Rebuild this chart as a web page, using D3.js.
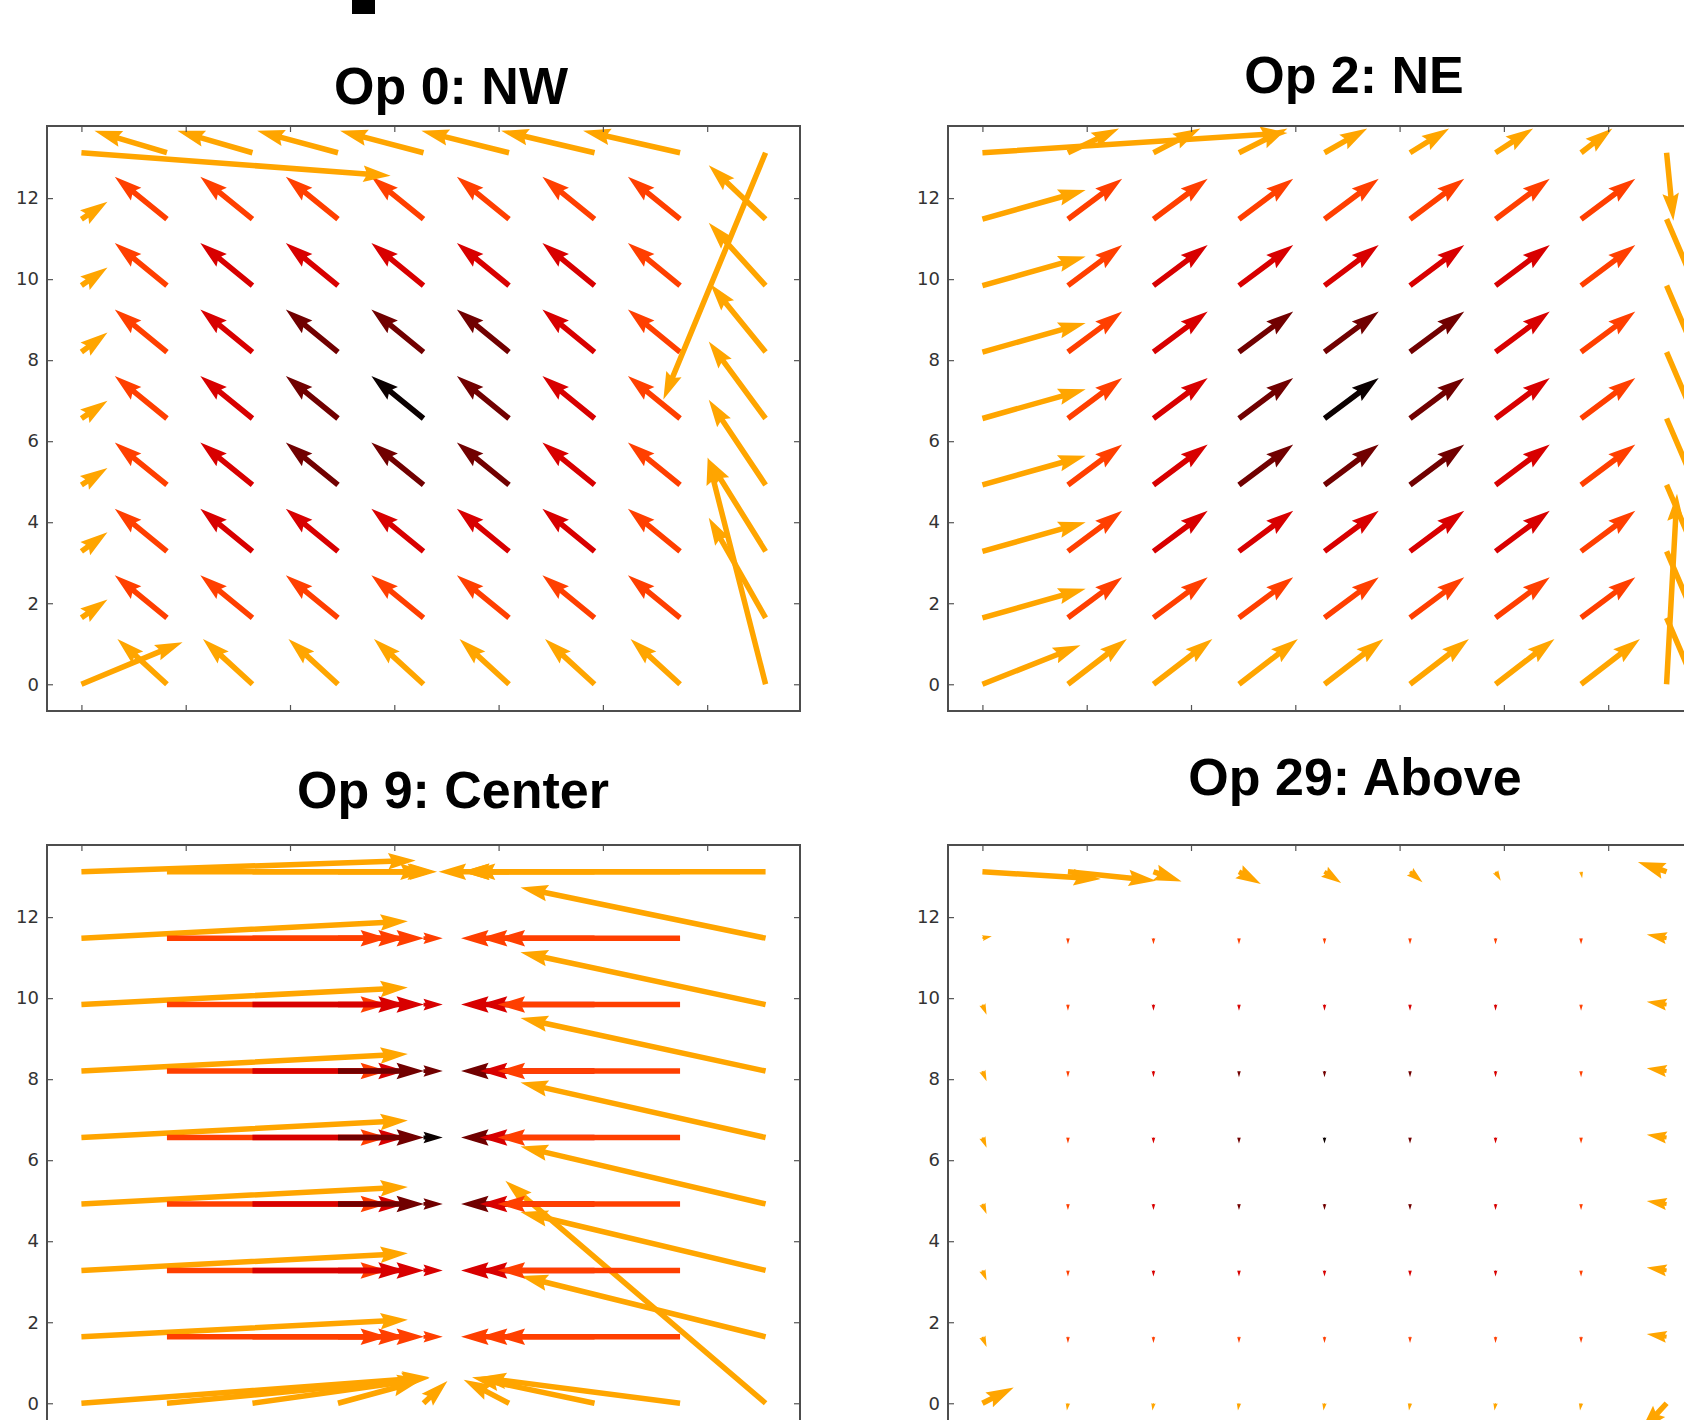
<!DOCTYPE html>
<html>
<head>
<meta charset="utf-8">
<script src="https://cdn.jsdelivr.net/npm/d3@7"></script>
<style>
  body { margin: 0; background: #fff; }
</style>
</head>
<body>
<div id="chart"></div>
<script>
// arrow tails, same grid in every panel
const gridX = [0, 1.64, 3.28, 4.92, 6.56, 8.2, 9.84, 11.48, 13.12];
const gridY = [0, 1.64, 3.28, 4.92, 6.56, 8.2, 9.84, 11.48, 13.12];
const ticks = [0, 2, 4, 6, 8, 10, 12];

// colour level of each arrow (0 = black ... 4 = orange), row 0 is the bottom row
const shade = [
  [4, 4, 4, 4, 4, 4, 4, 4, 4],
  [4, 3, 3, 3, 3, 3, 3, 3, 4],
  [4, 3, 2, 2, 2, 2, 2, 3, 4],
  [4, 3, 2, 1, 1, 1, 2, 3, 4],
  [4, 3, 2, 1, 0, 1, 2, 3, 4],
  [4, 3, 2, 1, 1, 1, 2, 3, 4],
  [4, 3, 2, 2, 2, 2, 2, 3, 4],
  [4, 3, 3, 3, 3, 3, 3, 3, 4],
  [4, 4, 4, 4, 4, 4, 4, 4, 4]
];

// Op 0: NW
const nwU = [
  [1.94, -0.95, -0.95, -0.95, -0.95, -0.95, -0.95, -0.95, -1.11],
  [0.50, -1.00, -1.00, -1.00, -1.00, -1.00, -1.00, -1.00, -1.09],
  [0.50, -1.00, -1.00, -1.00, -1.00, -1.00, -1.00, -1.00, -1.11],
  [0.50, -1.00, -1.00, -1.00, -1.00, -1.00, -1.00, -1.00, -1.09],
  [0.50, -1.00, -1.00, -1.00, -1.00, -1.00, -1.00, -1.00, -1.09],
  [0.50, -1.00, -1.00, -1.00, -1.00, -1.00, -1.00, -1.00, -1.06],
  [0.50, -1.00, -1.00, -1.00, -1.00, -1.00, -1.00, -1.00, -1.09],
  [0.50, -1.00, -1.00, -1.00, -1.00, -1.00, -1.00, -1.00, -1.09],
  [5.93, -1.39, -1.44, -1.55, -1.60, -1.68, -1.79, -1.86, -1.96]
];
const nwV = [
  [1.04, 1.12, 1.12, 1.12, 1.12, 1.12, 1.12, 1.12, 5.60],
  [0.45, 1.05, 1.05, 1.05, 1.05, 1.05, 1.05, 1.05, 2.47],
  [0.47, 1.05, 1.05, 1.05, 1.05, 1.05, 1.05, 1.05, 2.30],
  [0.42, 1.05, 1.05, 1.05, 1.05, 1.05, 1.05, 1.05, 2.10],
  [0.44, 1.05, 1.05, 1.05, 1.05, 1.05, 1.05, 1.05, 1.90],
  [0.48, 1.05, 1.05, 1.05, 1.05, 1.05, 1.05, 1.05, 1.68],
  [0.45, 1.05, 1.05, 1.05, 1.05, 1.05, 1.05, 1.05, 1.55],
  [0.43, 1.05, 1.05, 1.05, 1.05, 1.05, 1.05, 1.05, 1.33],
  [-0.57, 0.54, 0.54, 0.54, 0.54, 0.54, 0.54, 0.54, -6.09]
];

// Op 2: NE
const neU = [
  [1.88, 1.13, 1.13, 1.13, 1.13, 1.13, 1.13, 1.13, 0.20],
  [1.98, 1.04, 1.04, 1.04, 1.04, 1.04, 1.04, 1.04, 1.00],
  [1.98, 1.04, 1.04, 1.04, 1.04, 1.04, 1.04, 1.04, 1.00],
  [1.98, 1.04, 1.04, 1.04, 1.04, 1.04, 1.04, 1.04, 1.00],
  [1.98, 1.04, 1.04, 1.04, 1.04, 1.04, 1.04, 1.04, 1.00],
  [1.98, 1.04, 1.04, 1.04, 1.04, 1.04, 1.04, 1.04, 1.00],
  [1.98, 1.04, 1.04, 1.04, 1.04, 1.04, 1.04, 1.04, 1.00],
  [1.98, 1.04, 1.04, 1.04, 1.04, 1.04, 1.04, 1.04, 1.00],
  [5.85, 0.98, 0.90, 0.93, 0.82, 0.75, 0.72, 0.60, 0.13]
];
const neV = [
  [0.96, 1.12, 1.12, 1.12, 1.12, 1.12, 1.12, 1.12, 4.70],
  [0.72, 1.00, 1.00, 1.00, 1.00, 1.00, 1.00, 1.00, -3.00],
  [0.72, 1.00, 1.00, 1.00, 1.00, 1.00, 1.00, 1.00, -3.00],
  [0.72, 1.00, 1.00, 1.00, 1.00, 1.00, 1.00, 1.00, -3.00],
  [0.72, 1.00, 1.00, 1.00, 1.00, 1.00, 1.00, 1.00, -3.00],
  [0.72, 1.00, 1.00, 1.00, 1.00, 1.00, 1.00, 1.00, -3.00],
  [0.72, 1.00, 1.00, 1.00, 1.00, 1.00, 1.00, 1.00, -3.00],
  [0.72, 1.00, 1.00, 1.00, 1.00, 1.00, 1.00, 1.00, -3.00],
  [0.49, 0.60, 0.60, 0.60, 0.60, 0.60, 0.60, 0.60, -1.68]
];

// Op 9: Center
const ctU = [
  [6.68, 5.03, 3.30, 1.57, 0.46, -0.87, -2.35, -3.86, -4.99],
  [6.26, 4.24, 2.94, 1.65, 0.37, -0.92, -2.20, -3.50, -4.70],
  [6.26, 4.24, 2.94, 1.65, 0.37, -0.92, -2.20, -3.50, -4.70],
  [6.26, 4.24, 2.94, 1.65, 0.37, -0.92, -2.20, -3.50, -4.70],
  [6.26, 4.24, 2.94, 1.65, 0.37, -0.92, -2.20, -3.50, -4.70],
  [6.26, 4.24, 2.94, 1.65, 0.37, -0.92, -2.20, -3.50, -4.70],
  [6.26, 4.24, 2.94, 1.65, 0.37, -0.92, -2.20, -3.50, -4.70],
  [6.26, 4.24, 2.94, 1.65, 0.37, -0.92, -2.20, -3.50, -4.70],
  [6.41, 5.00, 3.50, 1.90, 0.15, -0.90, -2.55, -4.07, -6.27]
];
const ctV = [
  [0.64, 0.62, 0.60, 0.55, 0.55, 0.58, 0.64, 0.64, 5.49],
  [0.42, 0, 0, 0, 0, 0, 0, 0, 1.50],
  [0.42, 0, 0, 0, 0, 0, 0, 0, 1.44],
  [0.42, 0, 0, 0, 0, 0, 0, 0, 1.42],
  [0.42, 0, 0, 0, 0, 0, 0, 0, 1.36],
  [0.42, 0, 0, 0, 0, 0, 0, 0, 1.31],
  [0.42, 0, 0, 0, 0, 0, 0, 0, 1.29],
  [0.42, 0, 0, 0, 0, 0, 0, 0, 1.25],
  [0.28, 0, 0, 0, 0, 0, 0, 0, 0]
];

// Op 29: Above
const abU = [
  [0.60, -0.02, -0.02, -0.02, -0.02, -0.02, -0.02, -0.02, -0.50],
  [0.08, 0, 0, 0, 0, 0, 0, 0, -0.38],
  [0.08, 0, 0, 0, 0, 0, 0, 0, -0.38],
  [0.08, 0, 0, 0, 0, 0, 0, 0, -0.38],
  [0.08, 0, 0, 0, 0, 0, 0, 0, -0.38],
  [0.08, 0, 0, 0, 0, 0, 0, 0, -0.38],
  [0.08, 0, 0, 0, 0, 0, 0, 0, -0.38],
  [0.18, 0, 0, 0, 0, 0, 0, 0, -0.38],
  [2.27, 1.69, 0.54, 0.42, 0.32, 0.24, 0.10, 0.02, -0.55]
];
const abV = [
  [0.39, -0.18, -0.18, -0.18, -0.18, -0.18, -0.18, -0.18, -0.70],
  [-0.25, -0.15, -0.15, -0.15, -0.15, -0.15, -0.15, -0.15, 0.07],
  [-0.25, -0.15, -0.15, -0.15, -0.15, -0.15, -0.15, -0.15, 0.07],
  [-0.25, -0.15, -0.15, -0.15, -0.15, -0.15, -0.15, -0.15, 0.07],
  [-0.25, -0.15, -0.15, -0.15, -0.15, -0.15, -0.15, -0.15, 0.07],
  [-0.25, -0.15, -0.15, -0.15, -0.15, -0.15, -0.15, -0.15, 0.07],
  [-0.25, -0.15, -0.15, -0.15, -0.15, -0.15, -0.15, -0.15, 0.07],
  [0.05, -0.15, -0.15, -0.15, -0.15, -0.15, -0.15, -0.15, 0.09],
  [-0.18, -0.22, -0.24, -0.30, -0.28, -0.26, -0.22, -0.16, 0.24]
];

const titles = ["Op 0: NW", "Op 2: NE", "Op 9: Center", "Op 29: Above"];
const fieldsU = [nwU, neU, ctU, abU];
const fieldsV = [nwV, neV, ctV, abV];

// page layout
const W = 1684, H = 1420;
const frameW = 753, frameH = 585;
const extent = [-0.66, 13.78];
const layout = [
  { left: 47,  top: 126, titleX: 451,  titleY: 104 },
  { left: 948, top: 126, titleX: 1354, titleY: 93 },
  { left: 47,  top: 845, titleX: 453,  titleY: 808 },
  { left: 948, top: 845, titleX: 1355, titleY: 795 }
];

// matplotlib "hot" colormap, levels spread over its lower part
const hot = d3.scaleLinear()
  .domain([0, 0.365, 0.746, 1])
  .range(["#0b0000", "#ff0000", "#ffff00", "#ffffff"]);
const level = d3.scaleLinear().domain([0, 4]).range([0, 0.612]);

// quiver arrow polygon, in units of shaft width (matplotlib defaults)
const shaft = 5.5;
function arrowPath(x0, y0, x1, y1) {
  const dx = x1 - x0, dy = y1 - y0;
  const len = Math.hypot(dx, dy) / shaft;
  const a = Math.atan2(dy, dx), ca = Math.cos(a), sa = Math.sin(a);
  let X, Y;
  if (len < 1) {
    X = d3.range(7).map(i => 0.5 * Math.cos(i * Math.PI / 3));
    Y = d3.range(7).map(i => 0.5 * Math.sin(i * Math.PI / 3));
  } else if (len < 5) {
    const s = len / 5;
    X = [0, 0.5, 0, 5, 0, 0.5, 0].map(v => v * s);
    Y = [0.5, 0.5, 1.5, 0, -1.5, -0.5, -0.5].map(v => v * s);
  } else {
    X = [0, len - 4.5, len - 5, len, len - 5, len - 4.5, 0];
    Y = [0.5, 0.5, 1.5, 0, -1.5, -0.5, -0.5];
  }
  const pts = X.map((xv, i) => [
    x0 + shaft * (xv * ca - Y[i] * sa),
    y0 + shaft * (xv * sa + Y[i] * ca)
  ]);
  return "M" + pts.map(p => p[0].toFixed(2) + "," + p[1].toFixed(2)).join("L") + "Z";
}

const svg = d3.select("#chart").append("svg")
  .attr("width", W)
  .attr("height", H)
  .style("display", "block");

svg.append("rect").attr("width", W).attr("height", H).attr("fill", "#fff");

// cut-off glyph of a heading above the figure
svg.append("rect").attr("x", 352).attr("y", 0).attr("width", 23).attr("height", 14).attr("fill", "#000");

const defs = svg.append("defs");

titles.forEach((title, i) => {
  const L = layout[i];
  const x = d3.scaleLinear().domain(extent).range([L.left, L.left + frameW]);
  const y = d3.scaleLinear().domain(extent).range([L.top + frameH, L.top]);

  defs.append("clipPath").attr("id", "clip" + i)
    .append("rect")
    .attr("x", L.left).attr("y", L.top)
    .attr("width", frameW).attr("height", frameH);

  const arrows = [];
  gridY.forEach((gy, r) => gridX.forEach((gx, c) => {
    arrows.push({ gx, gy, u: fieldsU[i][r][c], v: fieldsV[i][r][c], k: shade[r][c] });
  }));

  svg.append("g")
    .attr("clip-path", `url(#clip${i})`)
    .selectAll("path")
    .data(arrows)
    .join("path")
    .attr("d", d => arrowPath(x(d.gx), y(d.gy), x(d.gx + d.u), y(d.gy + d.v)))
    .attr("fill", d => hot(level(d.k)));

  // inward ticks on all four sides
  const styleAxis = g => {
    g.select(".domain").remove();
    g.selectAll(".tick line").attr("stroke", "#555").attr("stroke-width", 1.2);
  };
  svg.append("g")
    .attr("transform", `translate(${L.left},0)`)
    .call(d3.axisLeft(y).tickValues(ticks).tickSizeInner(-6).tickSizeOuter(0).tickPadding(8))
    .call(styleAxis)
    .call(g => g.selectAll(".tick text")
      .attr("fill", "#333")
      .attr("font-family", "DejaVu Sans")
      .attr("font-size", 18));
  svg.append("g")
    .attr("transform", `translate(${L.left + frameW},0)`)
    .call(d3.axisRight(y).tickValues(ticks).tickSizeInner(-6).tickSizeOuter(0).tickFormat(""))
    .call(styleAxis);
  svg.append("g")
    .attr("transform", `translate(0,${L.top})`)
    .call(d3.axisTop(x).tickValues(ticks).tickSizeInner(-6).tickSizeOuter(0).tickFormat(""))
    .call(styleAxis);
  svg.append("g")
    .attr("transform", `translate(0,${L.top + frameH})`)
    .call(d3.axisBottom(x).tickValues(ticks).tickSizeInner(-6).tickSizeOuter(0).tickFormat(""))
    .call(styleAxis);

  svg.append("rect")
    .attr("x", L.left).attr("y", L.top)
    .attr("width", frameW).attr("height", frameH)
    .attr("fill", "none")
    .attr("stroke", "#4d4d4d")
    .attr("stroke-width", 2);

  svg.append("text")
    .attr("x", L.titleX)
    .attr("y", L.titleY)
    .attr("text-anchor", "middle")
    .attr("font-family", "Liberation Sans, Arial, sans-serif")
    .attr("font-weight", "bold")
    .attr("font-size", 52)
    .attr("fill", "#000")
    .text(title);
});
</script>
</body>
</html>
